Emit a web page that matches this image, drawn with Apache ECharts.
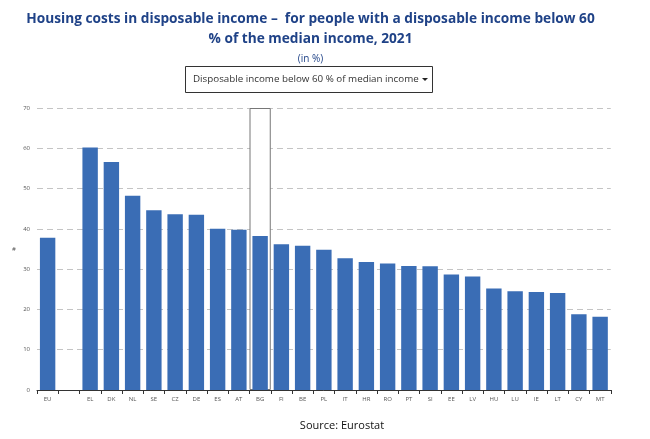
<!DOCTYPE html>
<html><head><meta charset="utf-8">
<style>html,body{margin:0;padding:0;background:#fff}#c{width:650px;height:439px}</style>
<script src="https://cdn.jsdelivr.net/npm/echarts@6/dist/echarts.min.js"></script>
</head><body><div id="c"></div>
<script>
const categories=['EU','','EL','DK','NL','SE','CZ','DE','ES','AT','BG','FI','BE','PL','IT','HR','RO','PT','SI','EE','LV','HU','LU','IE','LT','CY','MT'];
const values=[37.8,null,60.2,56.6,48.2,44.6,43.6,43.5,40.0,39.8,38.2,36.2,35.8,34.8,32.7,31.8,31.4,30.8,30.7,28.7,28.2,25.2,24.5,24.3,24.1,18.8,18.2];
const highlight=[null,null,null,null,null,null,null,null,null,null,70,null,null,null,null,null,null,null,null,null,null,null,null,null,null,null,null];
const yTicks={min:0,max:70,interval:10};
const font='"Open Sans"';
const chart=echarts.init(document.getElementById('c'),null,{renderer:'canvas'});
chart.setOption({
 animation:false,
 backgroundColor:'#fff',
 title:[
  {text:'Housing costs in disposable income –  for people with a disposable income below 60',left:305.5,textAlign:'center',top:7,textStyle:{fontFamily:font,fontWeight:'bold',fontSize:13.7,color:'#1f4287'}},
  {text:'% of the median income, 2021',left:305.5,textAlign:'center',top:27,textStyle:{fontFamily:font,fontWeight:'bold',fontSize:13.7,color:'#1f4287'}},
  {text:'(in %)',left:305.5,textAlign:'center',top:49,textStyle:{fontFamily:font,fontWeight:'normal',fontSize:10,color:'#1f4287'}},
  {text:'Source: Eurostat',left:337,textAlign:'center',top:415,textStyle:{fontFamily:font,fontWeight:'normal',fontSize:11,color:'#111'}}
 ],
 grid:{left:37,right:39.25,top:108,bottom:49,containLabel:false},
 xAxis:[
  {type:'category',data:categories,axisLine:{lineStyle:{color:'#333',width:1}},axisTick:{show:true,length:4,lineStyle:{color:'#333'},alignWithLabel:false},axisLabel:{interval:0,fontFamily:font,fontSize:6,color:'#555',margin:6}},
  {type:'category',data:categories,position:'bottom',show:false}
 ],
 yAxis:{type:'value',...yTicks,name:'#',nameLocation:'middle',nameGap:21,nameRotate:0,nameTextStyle:{fontFamily:font,fontSize:6,color:'#555'},
  axisLine:{show:false},axisTick:{show:false},axisLabel:{fontFamily:font,fontSize:6,color:'#555',margin:7},
  splitLine:{lineStyle:{type:[6,4],color:'#c4c4c4',width:1}}},
 series:[
  {type:'bar',xAxisIndex:1,data:highlight,barWidth:'100%',z:2,itemStyle:{color:'#fff',borderColor:'#777',borderWidth:1},silent:true},
  {type:'bar',xAxisIndex:0,data:values,barWidth:15.4,z:3,itemStyle:{color:'#3a6db5'}}
 ],
 graphic:[
  {type:'rect',shape:{x:185.5,y:66.5,width:247,height:26},style:{fill:'#fff',stroke:'#333',lineWidth:1}},
  {type:'text',style:{x:193,y:79.5,text:'Disposable income below 60 % of median income',fontFamily:font,fontSize:9.8,fill:'#333',verticalAlign:'middle'}},
  {type:'polygon',shape:{points:[[422,78],[428,78],[425,81]]},style:{fill:'#222'}}
 ]
});
</script></body></html>
